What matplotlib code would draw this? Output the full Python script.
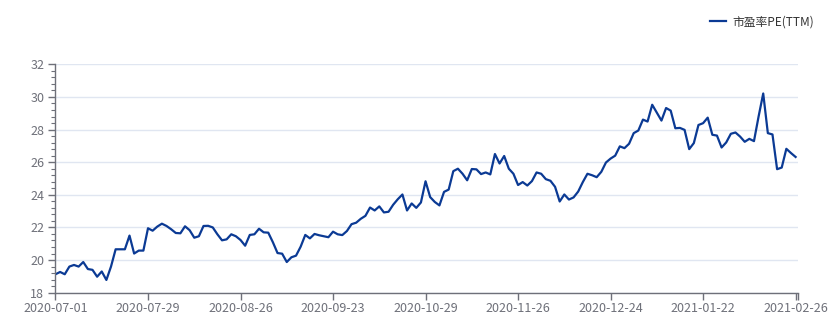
import numpy as np
import matplotlib.pyplot as plt
from matplotlib.ticker import MultipleLocator

plt.rcParams['font.family'] = ['Noto Sans CJK SC', 'DejaVu Sans']

# daily PE(TTM) readings, one per trading day
pe_ttm = [
    19.13, 19.27, 19.13, 19.60, 19.70, 19.60, 19.88, 19.45, 19.40, 18.98,
    19.30, 18.78, 19.60, 20.66, 20.66, 20.66, 21.50, 20.40, 20.58, 20.58,
    21.95, 21.80, 22.05, 22.23, 22.09, 21.89, 21.66, 21.64, 22.07, 21.83,
    21.37, 21.46, 22.09, 22.10, 22.00, 21.58, 21.21, 21.27, 21.58, 21.46,
    21.23, 20.88, 21.54, 21.58, 21.92, 21.70, 21.68, 21.09, 20.43, 20.39,
    19.88, 20.17, 20.27, 20.82, 21.54, 21.33, 21.60, 21.52, 21.46, 21.40,
    21.74, 21.58, 21.53, 21.78, 22.20, 22.29, 22.53, 22.71, 23.22, 23.04,
    23.29, 22.92, 22.96, 23.39, 23.73, 24.02, 23.04, 23.47, 23.20, 23.53,
    24.83, 23.86, 23.56, 23.35, 24.18, 24.32, 25.45, 25.60, 25.29, 24.89,
    25.58, 25.56, 25.27, 25.37, 25.25, 26.50, 25.92, 26.38, 25.60, 25.29,
    24.60, 24.78, 24.57, 24.84, 25.37, 25.29, 24.96, 24.86, 24.49, 23.59,
    24.02, 23.71, 23.84, 24.20, 24.78, 25.29, 25.20, 25.08, 25.41, 25.98,
    26.22, 26.40, 26.97, 26.86, 27.13, 27.78, 27.94, 28.61, 28.49, 29.52,
    29.03, 28.55, 29.32, 29.16, 28.08, 28.10, 27.98, 26.80, 27.17, 28.28,
    28.39, 28.73, 27.68, 27.63, 26.90, 27.21, 27.74, 27.82, 27.57, 27.25,
    27.43, 27.29, 28.80, 30.21, 27.78, 27.70, 25.57, 25.67, 26.82, 26.56,
    26.32,
]
date_labels = ['2020-07-01', '2020-07-29', '2020-08-26', '2020-09-23', '2020-10-29',
               '2020-11-26', '2020-12-24', '2021-01-22', '2021-02-26']
label_step = 20

axis_color = '#6E7079'
grid_color = '#E0E6F1'
line_color = '#0b3a94'

fig = plt.figure(figsize=(8.37, 3.21), dpi=100)
ax = fig.add_axes([0.0663, 0.0882, 0.887, 0.7115])

x = np.arange(len(pe_ttm))
ax.plot(x, pe_ttm, color=line_color, lw=1.6, label='市盈率PE(TTM)', solid_joinstyle='round')

ax.set_xlim(0, len(pe_ttm) - 0.5)
ax.set_ylim(18, 32)

# y axis
ax.yaxis.set_major_locator(MultipleLocator(2))
ax.yaxis.set_minor_locator(MultipleLocator(0.4))
ax.grid(axis='y', which='major', color=grid_color, lw=1)
ax.set_axisbelow(True)
ax.tick_params(axis='y', which='major', length=5, width=1, color=axis_color,
               labelcolor=axis_color, labelsize=9, pad=3)
ax.tick_params(axis='y', which='minor', length=3, width=0.8, color=axis_color)

# x axis
xticks = list(np.arange(len(date_labels)) * label_step) + [len(pe_ttm) - 0.5]
ax.set_xticks(xticks)
ax.set_xticklabels(date_labels + [''])
ax.tick_params(axis='x', length=5, width=1, color=axis_color,
               labelcolor=axis_color, labelsize=9, pad=2)

for side in ['top', 'right']:
    ax.spines[side].set_visible(False)
for side in ['left', 'bottom']:
    ax.spines[side].set_color(axis_color)
    ax.spines[side].set_linewidth(1)

leg = fig.legend(loc='upper right', bbox_to_anchor=(0.985, 0.985), frameon=False,
                 fontsize=8.5, handlelength=1.4, handletextpad=0.5)
for t in leg.get_texts():
    t.set_color('#333333')

fig.savefig('out.png', dpi=100)
